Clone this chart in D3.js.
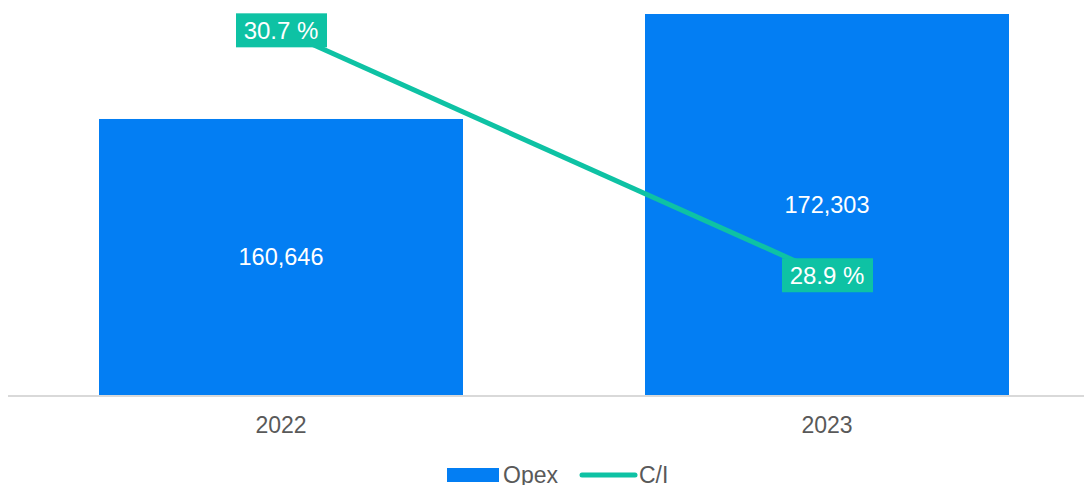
<!DOCTYPE html>
<html>
<head>
    <meta charset="utf-8">
    <title>Opex and C/I</title>
    <script src="https://d3js.org/d3.v7.min.js"></script>
    <style>
        body {
            margin: 0;
            background: #fff;
            font-family: 'Liberation Sans', Arial, sans-serif;
        }
    </style>
</head>
<body>
    <div id="chart"></div>
    <script>
        const years = ["2022", "2023"]
        const opex = [160646, 172303]
        const costIncome = [30.7, 28.9]
        const seriesNames = ["Opex", "C/I"]

        const w = 1084
        const h = 485
        const barColor = "#037EF3"
        const lineColor = "#0EC2A4"
        const axisY = 395
        const plotTop = 14

        const formatNum = d3.format(",")
        const formatPct = d3.format(".1f")

        const data = years.map((y, i) => ({ year: y, opex: opex[i], ci: costIncome[i] }))

        const svg = d3.select("#chart")
            .append("svg")
            .attr("width", w)
            .attr("height", h)

        const xScale = d3.scaleBand()
            .domain(years)
            .range([8, 1100])
            .paddingInner(1 / 3)
            .paddingOuter(1 / 6)

        const yScale = d3.scaleLinear()
            .domain([130000, 172303])
            .range([axisY, plotTop])

        const yLine = d3.scaleLinear()
            .domain([28.02, 30.82])
            .range([axisY, plotTop])

        // bars
        svg.selectAll("rect.bar")
            .data(data)
            .enter()
            .append("rect")
            .attr("class", "bar")
            .attr("x", d => xScale(d.year))
            .attr("y", d => yScale(d.opex))
            .attr("width", xScale.bandwidth())
            .attr("height", d => axisY - yScale(d.opex))
            .style("fill", barColor)

        svg.selectAll("text.barlabel")
            .data(data)
            .enter()
            .append("text")
            .attr("class", "barlabel")
            .attr("x", d => xScale(d.year) + xScale.bandwidth() / 2)
            .attr("y", d => (yScale(d.opex) + axisY) / 2)
            .attr("dy", "0.35em")
            .attr("text-anchor", "middle")
            .style("fill", "#fff")
            .style("font-size", "23.5px")
            .text(d => formatNum(d.opex))

        // x axis
        svg.append("line")
            .attr("x1", 8)
            .attr("x2", w)
            .attr("y1", axisY + 1)
            .attr("y2", axisY + 1)
            .style("stroke", "#d9d9d9")
            .style("stroke-width", 2)

        svg.selectAll("text.xlabel")
            .data(years)
            .enter()
            .append("text")
            .attr("class", "xlabel")
            .attr("x", d => xScale(d) + xScale.bandwidth() / 2)
            .attr("y", 425)
            .attr("dy", "0.35em")
            .attr("text-anchor", "middle")
            .style("fill", "#595959")
            .style("font-size", "23px")
            .text(d => d)

        // C/I line
        const line = d3.line()
            .x(d => xScale(d.year) + xScale.bandwidth() / 2)
            .y(d => yLine(d.ci))

        svg.append("path")
            .datum(data)
            .attr("d", line)
            .style("fill", "none")
            .style("stroke", lineColor)
            .style("stroke-width", 5)

        const labels = svg.selectAll("g.cilabel")
            .data(data)
            .enter()
            .append("g")
            .attr("class", "cilabel")
            .attr("transform", d => "translate(" + (xScale(d.year) + xScale.bandwidth() / 2) + "," + yLine(d.ci) + ")")

        labels.append("rect")
            .attr("x", -45)
            .attr("y", -17)
            .attr("width", 91)
            .attr("height", 34)
            .style("fill", lineColor)

        labels.append("text")
            .attr("dy", "0.35em")
            .attr("text-anchor", "middle")
            .style("fill", "#fff")
            .style("font-size", "24px")
            .text(d => formatPct(d.ci) + " %")

        // legend
        const legend = svg.append("g").attr("id", "legend")
        legend.append("rect")
            .attr("x", 447)
            .attr("y", 468)
            .attr("width", 52)
            .attr("height", 14)
            .style("fill", barColor)
        legend.append("text")
            .attr("x", 503)
            .attr("y", 475)
            .attr("dy", "0.35em")
            .style("fill", "#595959")
            .style("font-size", "23px")
            .text(seriesNames[0])
        legend.append("line")
            .attr("x1", 582)
            .attr("x2", 635)
            .attr("y1", 475)
            .attr("y2", 475)
            .style("stroke", lineColor)
            .style("stroke-width", 5)
            .style("stroke-linecap", "round")
        legend.append("text")
            .attr("x", 639)
            .attr("y", 475)
            .attr("dy", "0.35em")
            .style("fill", "#595959")
            .style("font-size", "23px")
            .text(seriesNames[1])
    </script>
</body>
</html>
